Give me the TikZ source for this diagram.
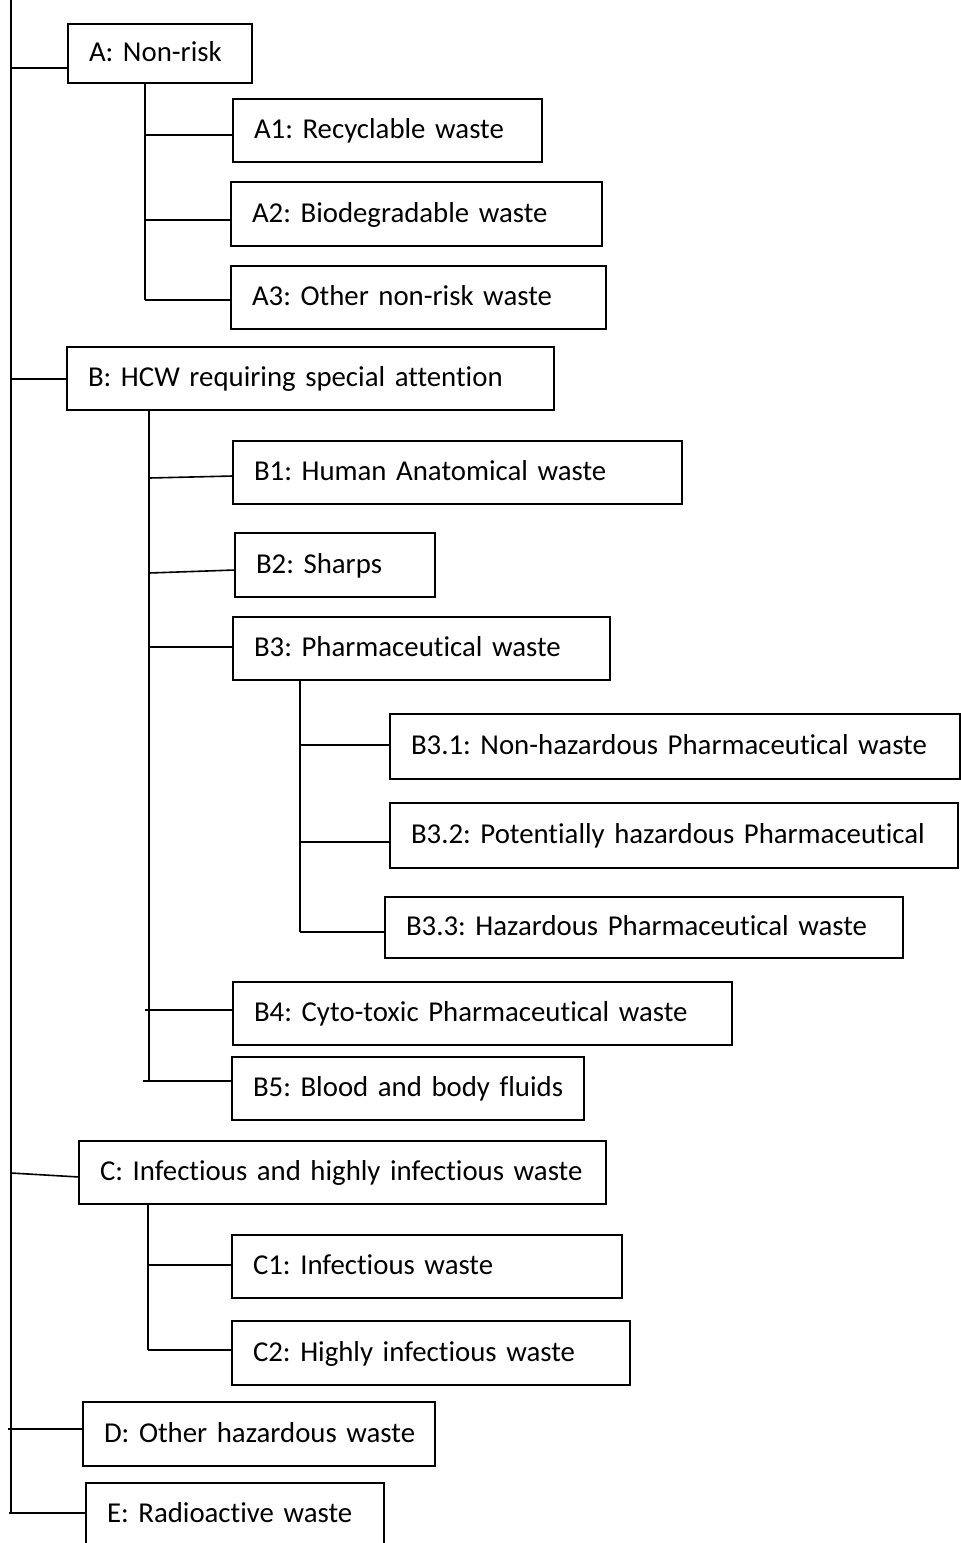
\documentclass[tikz,border=0pt]{standalone}
\usepackage{fontspec}
\setmainfont[Ligatures={NoCommon}]{Carlito}
\frenchspacing
\begin{document}
\begin{tikzpicture}[x=1pt,y=1pt,
  box/.style={draw, line width=1.6pt, rectangle, anchor=north west, inner xsep=21pt, inner ysep=0pt, outer sep=0pt,
    align=left, text height=21pt, text depth=5pt, font=\fontsize{28.8}{33}\selectfont},
  ln/.style={line width=1.6pt}]
\useasboundingbox (0,0) rectangle (961,-1543);
% boxes
\node[box, minimum width=184pt, minimum height=59pt, text width=142pt] (A) at (68,-24) {\mbox{A: Non-risk}};
\node[box, minimum width=309pt, minimum height=63pt, text width=267pt] (A1) at (233,-99) {\mbox{A1: Recyclable waste}};
\node[box, minimum width=371pt, minimum height=64pt, text width=329pt] (A2) at (231,-182) {\mbox{A2: Biodegradable waste}};
\node[box, minimum width=375pt, minimum height=63pt, text width=333pt] (A3) at (231,-266) {\mbox{A3: Other non-risk waste}};
\node[box, minimum width=487pt, minimum height=63pt, text width=445pt] (B) at (67,-347) {\mbox{B: HCW requiring special attention}};
\node[box, minimum width=449pt, minimum height=63pt, text width=407pt] (B1) at (233,-441) {\mbox{B1: Human Anatomical waste}};
\node[box, minimum width=200pt, minimum height=64pt, text width=158pt] (B2) at (235,-533) {\mbox{B2: Sharps}};
\node[box, minimum width=377pt, minimum height=63pt, text width=335pt] (B3) at (233,-617) {\mbox{B3: Pharmaceutical waste}};
\node[box, minimum width=570pt, minimum height=65pt, text width=528pt] (B31) at (390,-714) {\mbox{B3.1: Non-hazardous Pharmaceutical waste}};
\node[box, minimum width=568pt, minimum height=65pt, text width=526pt] (B32) at (390,-803) {\mbox{B3.2: Potentially hazardous Pharmaceutical}};
\node[box, minimum width=518pt, minimum height=61pt, text width=476pt] (B33) at (385,-897) {\mbox{B3.3: Hazardous Pharmaceutical waste}};
\node[box, minimum width=499pt, minimum height=63pt, text width=457pt] (B4) at (233,-982) {\mbox{B4: Cyto-toxic Pharmaceutical waste}};
\node[box, minimum width=352pt, minimum height=63pt, text width=310pt] (B5) at (232,-1057) {\mbox{B5: Blood and body fluids}};
\node[box, minimum width=527pt, minimum height=63pt, text width=485pt] (C) at (79,-1141) {\mbox{C: Infectious and highly infectious waste}};
\node[box, minimum width=390pt, minimum height=63pt, text width=348pt] (C1) at (232,-1235) {\mbox{C1: Infectious waste}};
\node[box, minimum width=398pt, minimum height=64pt, text width=356pt] (C2) at (232,-1321) {\mbox{C2: Highly infectious waste}};
\node[box, minimum width=352pt, minimum height=64pt, text width=310pt] (D) at (83,-1402) {\mbox{D: Other hazardous waste}};
\node[box, minimum width=298pt, minimum height=63pt, text width=256pt] (E) at (86,-1483) {\mbox{E: Radioactive waste}};
% main trunk
\coordinate (T0) at (11,0);
\coordinate (T1) at (11,-1513);
\draw[ln] (T0) -- (T1);
\coordinate (tA) at (11,-68);
\coordinate (tB) at (11,-379);
\coordinate (tC) at (11,-1173);
\coordinate (tCe) at (79,-1177);
\coordinate (tD) at (8,-1429);
\coordinate (tE) at (9,-1513);
\draw[ln] (tA) -- (tA -| A.west);
\draw[ln] (tB) -- (tB -| B.west);
\draw[ln] (tC) -- (tCe);
\draw[ln] (tD) -- (tD -| D.west);
\draw[ln] (tE) -- (tE -| E.west);
% A subtree
\coordinate (sA) at (145,-300);
\draw[ln] (A.south -| sA) -- (sA);
\coordinate (sA1) at (145,-135);
\coordinate (sA2) at (145,-220);
\draw[ln] (sA1) -- (sA1 -| A1.west);
\draw[ln] (sA2) -- (sA2 -| A2.west);
\draw[ln] (sA) -- (sA -| A3.west);
% B subtree
\coordinate (sB) at (149,-1081);
\draw[ln] (B.south -| sB) -- (sB);
\coordinate (sB1) at (149,-478);
\coordinate (sB1e) at (233,-476);
\coordinate (sB2) at (149,-573);
\coordinate (sB2e) at (235,-570);
\coordinate (sB3) at (149,-647);
\coordinate (sB4) at (145,-1010);
\coordinate (sB5) at (143,-1081);
\draw[ln] (sB1) -- (sB1e);
\draw[ln] (sB2) -- (sB2e);
\draw[ln] (sB3) -- (sB3 -| B3.west);
\draw[ln] (sB4) -- (sB4 -| B4.west);
\draw[ln] (sB5) -- (sB5 -| B5.west);
% B3 subtree
\coordinate (sP) at (300,-932);
\draw[ln] (B3.south -| sP) -- (sP);
\coordinate (sP1) at (300,-745);
\coordinate (sP2) at (300,-842);
\draw[ln] (sP1) -- (sP1 -| B31.west);
\draw[ln] (sP2) -- (sP2 -| B32.west);
\draw[ln] (sP) -- (sP -| B33.west);
% C subtree
\coordinate (sC) at (148,-1350);
\draw[ln] (C.south -| sC) -- (sC);
\coordinate (sC1) at (148,-1265);
\draw[ln] (sC1) -- (sC1 -| C1.west);
\draw[ln] (sC) -- (sC -| C2.west);
\end{tikzpicture}
\end{document}
